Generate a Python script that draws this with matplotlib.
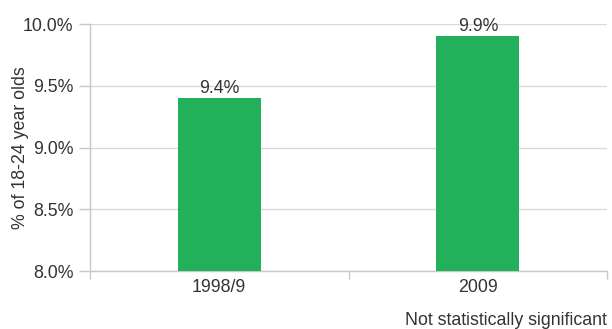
import matplotlib
matplotlib.use("Agg")
import matplotlib.pyplot as plt
from matplotlib.ticker import FuncFormatter

categories = ["1998/9", "2009"]
values = [9.4, 9.9]
value_labels = ["9.4%", "9.9%"]
y_ticks = [8.0, 8.5, 9.0, 9.5, 10.0]
y_label = "% of 18-24 year olds"
note = "Not statistically significant"

plt.rcParams["font.family"] = ["Liberation Sans", "DejaVu Sans"]
text_color = "#333333"
axis_color = "#c8c8c8"
bar_color = "#23b05a"
fs = 12.8

fig = plt.figure(figsize=(6.12, 3.29), dpi=100)
ax = fig.add_axes([0.147, 0.176, 0.845, 0.751])

x = list(range(len(categories)))
ax.bar(x, values, width=0.32, color=bar_color, zorder=3, bottom=0)
ax.set_xlim(-0.5, len(categories) - 0.5)
ax.set_ylim(y_ticks[0], y_ticks[-1])
ax.set_yticks(y_ticks)
ax.yaxis.set_major_formatter(FuncFormatter(lambda v, _: f"{v:.1f}%"))
ax.grid(axis="y", color="#d9d9d9", linewidth=1.0, zorder=0)

for xi, v, lab in zip(x, values, value_labels):
    ax.text(xi, v + 0.01, lab, ha="center", va="bottom", fontsize=fs,
            color=text_color, zorder=4)

# category labels centred, tick marks on category boundaries
ax.set_xticks(x)
ax.set_xticklabels(categories, fontsize=fs, color=text_color)
ax.tick_params(axis="x", length=0, pad=6)
ax.set_xticks([-0.5, 0.5, 1.5], minor=True)
ax.tick_params(axis="x", which="minor", length=6, color=axis_color, width=1)

ax.tick_params(axis="y", length=8, color=axis_color, width=1,
               labelsize=fs, labelcolor=text_color, pad=4)

for side in ["top", "right"]:
    ax.spines[side].set_visible(False)
for side in ["left", "bottom"]:
    ax.spines[side].set_color(axis_color)
    ax.spines[side].set_linewidth(1.0)

ax.set_ylabel(y_label, fontsize=fs, color=text_color, labelpad=4)
ax.yaxis.set_label_coords(-0.117, 0.5)

fig.text(0.992, 0.052, note, ha="right", va="top", fontsize=fs,
         color=text_color)

fig.savefig("out.png", dpi=100)
